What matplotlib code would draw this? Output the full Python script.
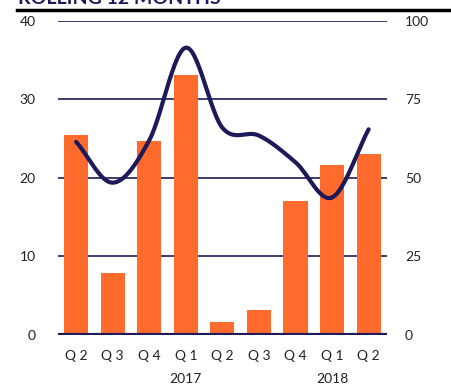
import numpy as np
import matplotlib.pyplot as plt
from matplotlib.lines import Line2D

plt.rcParams['font.family'] = ['Lato', 'DejaVu Sans']

quarters = ['Q 2', 'Q 3', 'Q 4', 'Q 1', 'Q 2', 'Q 3', 'Q 4', 'Q 1', 'Q 2']
years = {3: '2017', 7: '2018'}
bars = [25.5, 7.9, 24.7, 33.1, 1.6, 3.2, 17.1, 21.6, 23.1]
line = [61.5, 48.5, 62.0, 91.5, 66.0, 63.5, 55.0, 43.8, 65.5]

orange = '#FF6A2D'
navy = '#1E1A5A'


def catmull(xs, ys, n=30):
    # smooth curve through the points for drawing only
    xs = np.asarray(xs, float)
    ys = np.asarray(ys, float)
    px = np.concatenate([[2 * xs[0] - xs[1]], xs, [2 * xs[-1] - xs[-2]]])
    py = np.concatenate([[2 * ys[0] - ys[1]], ys, [2 * ys[-1] - ys[-2]]])
    ox, oy = [], []
    t = np.linspace(0, 1, n)
    for i in range(1, len(px) - 2):
        for p, o in ((px, ox), (py, oy)):
            p0, p1, p2, p3 = p[i - 1], p[i], p[i + 1], p[i + 2]
            o.extend(0.5 * ((2 * p1) + (-p0 + p2) * t
                            + (2 * p0 - 5 * p1 + 4 * p2 - p3) * t ** 2
                            + (-p0 + 3 * p1 - 3 * p2 + p3) * t ** 3))
    return np.array(ox), np.array(oy)


fig = plt.figure(figsize=(4.52, 3.85), dpi=100)
ax = fig.add_axes([0.128, 0.13, 0.728, 0.8155])
x = np.arange(len(bars))

ax.set_xlim(-0.5, 8.5)
ax.set_ylim(0, 40)
for v in [10, 20, 30, 40]:
    ax.axhline(v, color=navy, lw=1.2, zorder=1)
ax.bar(x, bars, width=0.66, color=orange, zorder=2)
ax.axhline(0, color=navy, lw=3, zorder=4)

ax2 = ax.twinx()
ax2.set_ylim(0, 100)
sx, sy = catmull(x, line)
ax2.plot(sx, sy, color=navy, lw=3, solid_capstyle='round', zorder=5)

for a in (ax, ax2):
    for s in a.spines.values():
        s.set_visible(False)
    a.tick_params(length=0, labelsize=10, colors='#222222')

ax.set_yticks([0, 10, 20, 30, 40])
ax.tick_params(axis='y', pad=16)
ax2.set_yticks([0, 25, 50, 75, 100])
ax2.tick_params(axis='y', pad=13)

ax.set_xticks(x)
ax.set_xticklabels(quarters)
ax.tick_params(axis='x', pad=11)
for i, yr in years.items():
    ax.text(i, -5.6, yr, ha='center', va='center', fontsize=10, color='#222222')

fig.text(18 / 452, 1 - 4.5 / 385, 'ROLLING 12 MONTHS', fontsize=14, fontweight='bold',
         color=navy, va='baseline')
fig.add_artist(Line2D([17 / 452, 1], [1 - 10 / 385] * 2, color='black', lw=2.5,
                      transform=fig.transFigure))

fig.savefig('out.png', dpi=100)
